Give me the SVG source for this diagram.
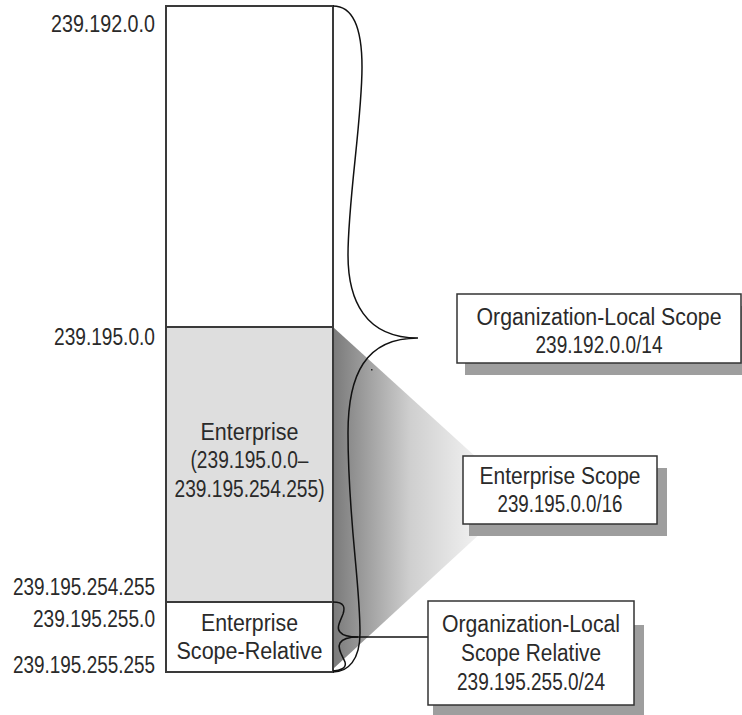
<svg xmlns="http://www.w3.org/2000/svg" width="742" height="715" viewBox="0 0 742 715">
<style>
text{font-family:"Liberation Sans",Arial,sans-serif;font-size:23px;fill:#2a2a2a}
.l{text-anchor:end}
.m{text-anchor:middle}
.col{stroke:#3a3a3a;stroke-width:2}
.box{fill:#fff;stroke:#333;stroke-width:1.5}
.sh{fill:#9e9e9e}
.brace{fill:none;stroke:#111;stroke-width:1.5}
</style>
<defs>
<linearGradient id="wg" gradientUnits="userSpaceOnUse" x1="333" y1="0" x2="505" y2="0">
<stop offset="0" stop-color="#7a7a7a"/>
<stop offset="0.45" stop-color="#cfcfcf"/>
<stop offset="1" stop-color="#ffffff"/>
</linearGradient>
</defs>
<rect width="742" height="715" fill="#fff"/>
<polygon points="333,327 520,497 333,669" fill="url(#wg)"/>
<g id="column">
<rect x="166" y="6" width="167" height="321" fill="#fff" class="col"/>
<rect x="166" y="327" width="167" height="275" fill="#dedede" class="col"/>
<rect x="166" y="602" width="167" height="70" fill="#fff" class="col"/>
<text class="m" x="249.5" y="440" textLength="98" lengthAdjust="spacingAndGlyphs">Enterprise</text>
<text class="m" x="249.5" y="468" textLength="118" lengthAdjust="spacingAndGlyphs">(239.195.0.0–</text>
<text class="m" x="249.5" y="497" textLength="150" lengthAdjust="spacingAndGlyphs">239.195.254.255)</text>
<text class="m" x="249.5" y="631" textLength="97" lengthAdjust="spacingAndGlyphs">Enterprise</text>
<text class="m" x="249.5" y="659" textLength="146" lengthAdjust="spacingAndGlyphs">Scope-Relative</text>
</g>
<g id="labels">
<text class="l" x="155" y="32" textLength="104" lengthAdjust="spacingAndGlyphs">239.192.0.0</text>
<text class="l" x="155" y="345" textLength="101" lengthAdjust="spacingAndGlyphs">239.195.0.0</text>
<text class="l" x="155" y="595" textLength="142" lengthAdjust="spacingAndGlyphs">239.195.254.255</text>
<text class="l" x="155" y="627" textLength="122" lengthAdjust="spacingAndGlyphs">239.195.255.0</text>
<text class="l" x="155" y="673" textLength="142" lengthAdjust="spacingAndGlyphs">239.195.255.255</text>
</g>
<g id="connectors">
<path class="brace" d="M333,6 C352,6 362,25 362,67 C362,120 348,200 348,255 C348,300 365,338 418,338 C365,338 348,375 348,433 C348,520 360,580 360,633 C360,660 348,672 333,672"/>
<path class="brace" d="M333,602 C345,602 345,608 343,614 C340,622 336,628 340,632 C343,636 350,637 358,637 C350,637 343,638 340,643 C337,648 342,655 345,662 C347,668 340,671 333,671"/>
<line class="brace" x1="350" y1="637" x2="428" y2="637"/>
<rect x="371" y="369" width="1.5" height="1.5" fill="#222"/>
</g>
<g id="org-local">
<rect class="sh" x="465" y="306" width="290" height="69"/>
<rect class="box" x="457" y="294" width="284" height="69"/>
<text class="m" x="599" y="325" textLength="245" lengthAdjust="spacingAndGlyphs">Organization-Local Scope</text>
<text class="m" x="599" y="353" textLength="127" lengthAdjust="spacingAndGlyphs">239.192.0.0/14</text>
</g>
<g id="enterprise-scope">
<rect class="sh" x="469" y="468" width="198" height="68"/>
<rect class="box" x="463" y="456" width="194" height="68"/>
<text class="m" x="560" y="484" textLength="161" lengthAdjust="spacingAndGlyphs">Enterprise Scope</text>
<text class="m" x="560" y="512" textLength="125" lengthAdjust="spacingAndGlyphs">239.195.0.0/16</text>
</g>
<g id="org-local-relative">
<rect class="sh" x="433" y="625" width="211" height="92"/>
<rect class="box" x="428" y="601" width="206" height="104"/>
<text class="m" x="531" y="632" textLength="178" lengthAdjust="spacingAndGlyphs">Organization-Local</text>
<text class="m" x="531" y="661" textLength="140" lengthAdjust="spacingAndGlyphs">Scope Relative</text>
<text class="m" x="531" y="690" textLength="148" lengthAdjust="spacingAndGlyphs">239.195.255.0/24</text>
</g>
</svg>
